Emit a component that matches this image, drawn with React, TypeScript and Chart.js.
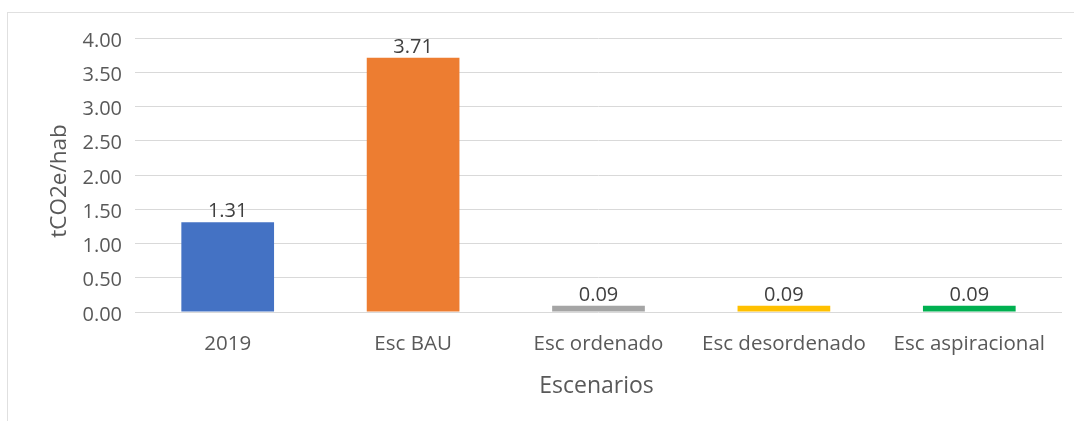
import React, { useEffect, useRef } from "react";
import { Chart, registerables } from "chart.js";

Chart.register(...registerables);

const categories = ["2019", "Esc BAU", "Esc ordenado", "Esc desordenado", "Esc aspiracional"];
const values = [1.31, 3.71, 0.09, 0.09, 0.09];
const barColors = ["#4472C4", "#ED7D31", "#A5A5A5", "#FFC000", "#00B050"];
const yTitle = "tCO2e/hab";
const xTitle = "Escenarios";

const FONT = "'Open Sans', 'Noto Sans', sans-serif";

const dataLabelPlugin = {
  id: "dataLabels",
  afterDatasetsDraw(chart: any) {
    const ctx = chart.ctx;
    const meta = chart.getDatasetMeta(0);
    ctx.save();
    ctx.font = `20px ${FONT}`;
    ctx.fillStyle = "#404040";
    ctx.textAlign = "center";
    ctx.textBaseline = "bottom";
    meta.data.forEach((bar: any, i: number) => {
      const v = chart.data.datasets[0].data[i] as number;
      ctx.fillText(v.toFixed(2), bar.x, bar.y - 1);
    });
    ctx.restore();
  },
};

const axisTitlesPlugin = {
  id: "axisTitles",
  afterDraw(chart: any) {
    const ctx = chart.ctx;
    const area = chart.chartArea;
    ctx.save();
    ctx.fillStyle = "#595959";
    ctx.font = `23px ${FONT}`;
    ctx.textAlign = "center";
    ctx.textBaseline = "alphabetic";
    // x-axis title
    ctx.fillText(xTitle, (area.left + area.right) / 2 - 2, chart.height - 28);
    // y-axis title
    ctx.font = `22.5px ${FONT}`;
    ctx.translate(66, (area.top + area.bottom) / 2 + 6);
    ctx.rotate(-Math.PI / 2);
    ctx.fillText(yTitle, 0, 0);
    ctx.restore();
  },
};

export default function App() {
  const ref = useRef<HTMLCanvasElement | null>(null);
  useEffect(() => {
    if (!ref.current) return;
    const chart = new Chart(ref.current, {
      type: "bar",
      data: {
        labels: categories,
        datasets: [
          {
            data: values,
            backgroundColor: barColors,
            borderWidth: 0,
            barPercentage: 0.5,
            categoryPercentage: 1,
          },
        ],
      },
      options: {
        responsive: false,
        animation: false,
        layout: { padding: { top: 38, right: 12, bottom: 0, left: 0 } },
        plugins: { legend: { display: false }, tooltip: { enabled: false } },
        scales: {
          x: {
            grid: { display: false, drawTicks: false },
            border: { display: false },
            ticks: { color: "#595959", font: { family: FONT, size: 20.5 }, padding: 20, maxRotation: 0 },
            title: { display: false },
            afterFit(scale: any) {
              scale.height = 109;
            },
          },
          y: {
            min: 0,
            max: 4,
            grid: { color: "#d9d9d9", lineWidth: 1, drawTicks: false },
            border: { display: false },
            ticks: {
              stepSize: 0.5,
              color: "#595959",
              font: { family: FONT, size: 20 },
              padding: 13,
              labelOffset: 3,
              callback: (v: any) => Number(v).toFixed(2),
            },
            title: { display: false },
            afterFit(scale: any) {
              scale.width = 135;
            },
          },
        },
      },
      plugins: [dataLabelPlugin, axisTitlesPlugin],
    });
    return () => chart.destroy();
  }, []);

  return (
    <div style={{ position: "fixed", left: 0, top: 0, width: 1074, height: 421, background: "#fff" }}>
      <div
        style={{
          position: "absolute",
          left: 7,
          top: 12,
          width: 1067,
          height: 409,
          borderLeft: "1px solid #e0e0e0",
          borderTop: "1px solid #e0e0e0",
          boxSizing: "border-box",
        }}
      />
      <canvas ref={ref} width={1074} height={421} style={{ position: "absolute", left: 0, top: 0 }} />
    </div>
  );
}
